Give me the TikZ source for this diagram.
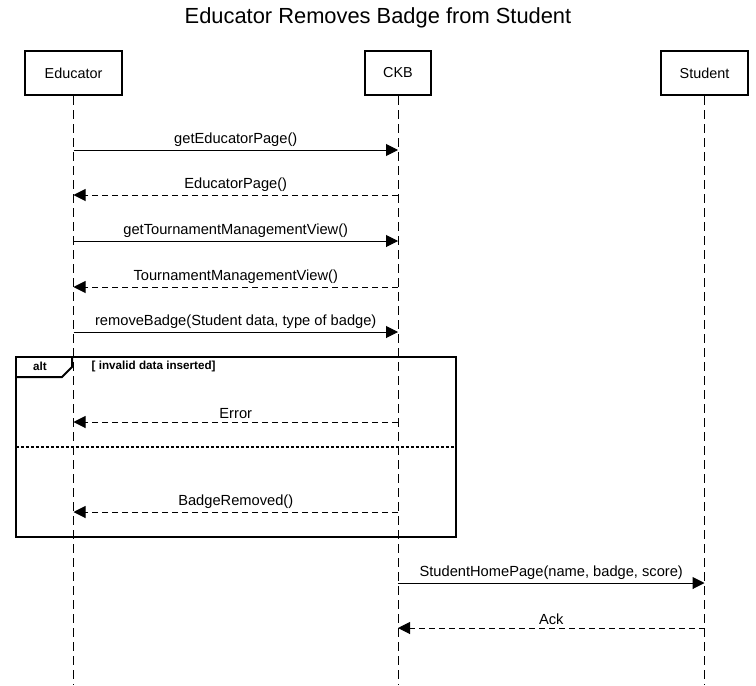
\documentclass[tikz,border=0pt]{standalone}
\usepackage{fontspec}
\setmainfont{Liberation Sans}
\usetikzlibrary{arrows.meta}

\begin{document}
\begin{tikzpicture}[x=0.75pt, y=-0.75pt,
    actor/.style={draw, line width=1.5pt, minimum height=33pt, font=\fontsize{10.8}{12}\selectfont},
    life/.style={dash pattern=on 6.75pt off 3.75pt, line width=0.75pt},
    call/.style={-{Triangle[length=9pt,width=9pt]}, line width=0.75pt},
    reply/.style={call, dash pattern=on 4.5pt off 3pt},
    lbl/.style={font=\fontsize{11}{12}\selectfont, above, inner sep=2pt, midway}]
    \useasboundingbox (0,0) rectangle (756,685);
    \node (title) at (378,18) [font=\fontsize{16.4}{19}\selectfont] {Educator Removes Badge from Student};
    % lifelines
    \node (educator) at (73.5,73) [actor, minimum width=72.75pt] {Educator};
    \node (ckb)      at (398,73)  [actor, minimum width=50pt]    {CKB};
    \node (student)  at (704.5,73) [actor, minimum width=65pt]   {Student};
    \draw[life] (educator.south) -- (educator.south |- 0,685);
    \draw[life] (ckb.south) -- (ckb.south |- 0,685);
    \draw[life] (student.south) -- (student.south |- 0,685);
    % messages
    \draw[call]  (educator.south |- 0,150) -- node[lbl] (m1) {getEducatorPage()} (ckb.south |- 0,150);
    \draw[reply] (ckb.south |- 0,195) -- node[lbl] (m2) {EducatorPage()} (educator.south |- 0,195);
    \draw[call]  (educator.south |- 0,241) -- node[lbl] (m3) {getTournamentManagementView()} (ckb.south |- 0,241);
    \draw[reply] (ckb.south |- 0,287) -- node[lbl] (m4) {TournamentManagementView()} (educator.south |- 0,287);
    \draw[call]  (educator.south |- 0,332) -- node[lbl] (m5) {removeBadge(Student data, type of badge)} (ckb.south |- 0,332);
    % alt fragment
    \draw[line width=1.5pt] (16,357) rectangle (456,537);
    \draw[line width=1.5pt] (16,377) -- (62,377) -- (72,367) -- (72,357);
    \node (alttag) at (40,366.5) [font=\bfseries\fontsize{8.75}{10}\selectfont] {alt};
    \node (guard) at (87,366.5) [anchor=west, font=\bfseries\fontsize{8.75}{10}\selectfont] {[ invalid data inserted]};
    \draw[line width=1.5pt, dash pattern=on 2.25pt off 1.5pt] (16,447) -- (456,447);
    \draw[reply] (ckb.south |- 0,422) -- node[lbl] (m6) {Error} (educator.south |- 0,422);
    \draw[reply] (ckb.south |- 0,512) -- node[lbl] (m7) {BadgeRemoved()} (educator.south |- 0,512);
    \draw[call]  (ckb.south |- 0,583) -- node[lbl] (m8) {StudentHomePage(name, badge, score)} (student.south |- 0,583);
    \draw[reply] (student.south |- 0,628) -- node[lbl] (m9) {Ack} (ckb.south |- 0,628);
\end{tikzpicture}
\end{document}
